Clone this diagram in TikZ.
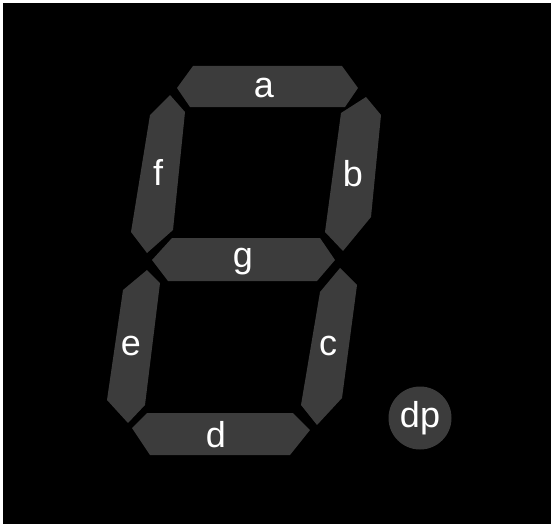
\documentclass[tikz,border=0pt]{standalone}
\usepackage{fontspec}
\setmainfont{Liberation Sans}
\definecolor{seg}{HTML}{3C3C3C}
\begin{document}
\begin{tikzpicture}[x=1pt,y=-1pt,
  segment/.style={fill=seg,draw=none},
  lbl/.style={text=white,font=\fontsize{36}{40}\selectfont,inner sep=0pt}]
\useasboundingbox (0,0) rectangle (553,524);
\fill[white] (0,0) rectangle (553,524);
\fill[black] (3,3) rectangle (551,524);
% a
\fill[segment] (177,88) -- (193,66) -- (342,66) -- (358,88) -- (345,107) -- (190,107) -- cycle;
% b
\fill[segment] (366,97) -- (381,115) -- (371,217) -- (343,251) -- (325,232) -- (341,113) -- cycle;
% f
\fill[segment] (170,95) -- (185,112) -- (173,230) -- (147,253) -- (131,232) -- (150,115) -- cycle;
% g
\fill[segment] (152,260) -- (172,238) -- (320,238) -- (335,260) -- (317,281) -- (168,281) -- cycle;
% e
\fill[segment] (147,270) -- (160,283) -- (145,405) -- (128,423) -- (107,400) -- (123,290) -- cycle;
% c
\fill[segment] (340,268) -- (357,285) -- (342,398) -- (317,425) -- (301,405) -- (320,292) -- cycle;
% d
\fill[segment] (132,428) -- (147,413) -- (293,413) -- (310,430) -- (290,455) -- (150,455) -- cycle;
% dp
\fill[segment] (420,418) circle (31.5);
\node[lbl] (la) at (264,88) {a};
\node[lbl] (lb) at (353,174) {b};
\node[lbl] (lf) at (158,172) {f};
\node[lbl] (lg) at (243,262) {g};
\node[lbl] (le) at (131,346) {e};
\node[lbl] (lc) at (328,346) {c};
\node[lbl] (ld) at (216,435) {d};
\node[lbl] (ldp) at (420,418) {dp};
\end{tikzpicture}
\end{document}
